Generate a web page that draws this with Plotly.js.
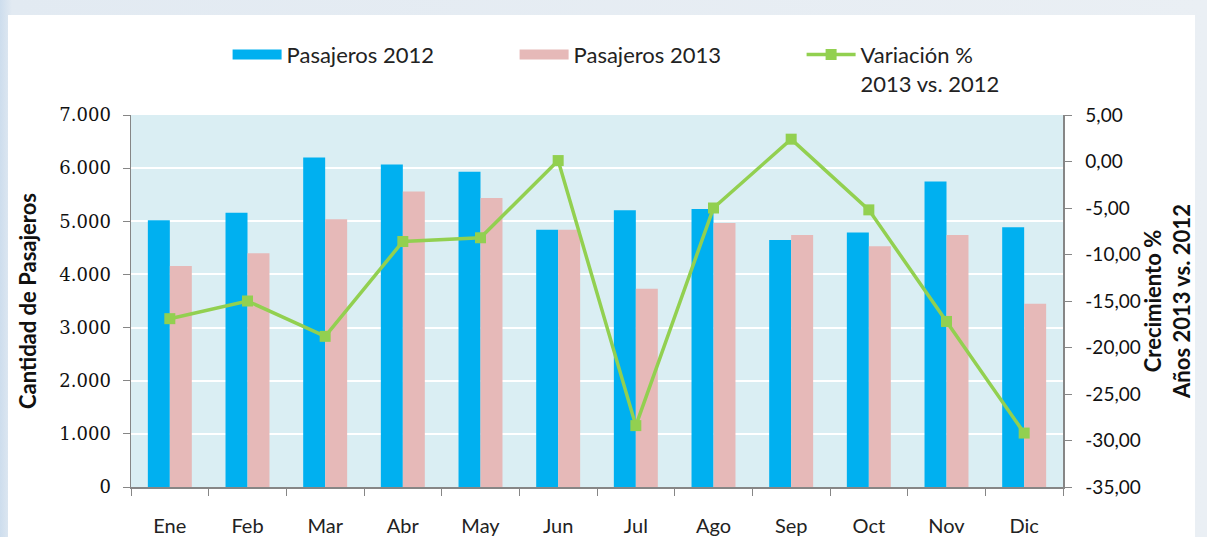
<!DOCTYPE html>
<html><head><meta charset="utf-8">
<script src="https://cdn.plot.ly/plotly-3.0.1.min.js"></script>
<style>
html,body{margin:0;padding:0;width:1207px;height:537px;overflow:hidden;}
body{background:linear-gradient(to right,#cddded 0px,#e2eaf2 12px,#eaeff4 100%);}
#chart{position:absolute;left:8px;top:15px;width:1187px;height:522px;background:#fff;}
</style></head><body><div id="chart"></div>
<script>
const months = ["Ene","Feb","Mar","Abr","May","Jun","Jul","Ago","Sep","Oct","Nov","Dic"];
const pasajeros2012 = [5020,5160,6200,6070,5930,4840,5210,5230,4650,4790,5750,4890];
const pasajeros2013 = [4160,4400,5040,5560,5440,4840,3730,4970,4740,4530,4740,3450];
const variacion = [-16.9,-15.0,-18.8,-8.6,-8.2,0.1,-28.4,-5.0,2.4,-5.2,-17.2,-29.2];
const rightTicks = [5,0,-5,-10,-15,-20,-25,-30,-35];
const leftTicks = [0,1000,2000,3000,4000,5000,6000,7000];

const fmtRight = v => v.toFixed(2).replace('.', ',');
const fmtLeft = v => v === 0 ? '0' : (v/1000).toFixed(3);

const blue = '#00B0F0', pink = '#E6B9B8', green = '#92D050';

const traces = [
  {type:'bar', name:'Pasajeros 2012', x:months, y:pasajeros2012, legendgroup:'p12', showlegend:false,
   marker:{color:blue, line:{width:0}}, hoverinfo:'y'},
  {type:'bar', name:'Pasajeros 2013', x:months, y:pasajeros2013, legendgroup:'p13', showlegend:false,
   marker:{color:pink, line:{width:0}}, hoverinfo:'y'},
  // legend swatches for the bar series (a single empty value, nothing is drawn)
  {type:'scatter', mode:'lines', name:'Pasajeros 2012', x:[months[0]], y:[null], legendgroup:'p12',
   line:{color:blue, width:15}, hoverinfo:'skip'},
  {type:'scatter', mode:'lines', name:'Pasajeros 2013', x:[months[0]], y:[null], legendgroup:'p13',
   line:{color:pink, width:15}, hoverinfo:'skip'},
  {type:'scatter', mode:'lines+markers', name:'Variación %<br>2013 vs. 2012', x:months, y:variacion,
   yaxis:'y2', line:{color:green, width:3.5},
   marker:{symbol:'square', size:11, color:green}}
];

const axisGrey = '#868686';
const layout = {
  width:1187, height:522,
  margin:{l:123, r:132, t:100, b:50},
  paper_bgcolor:'#ffffff',
  plot_bgcolor:'#DAEEF3',
  separators:',.',
  barmode:'group', bargap:0.434, bargroupgap:0,
  font:{family:'Lato, sans-serif', color:'#111'},
  showlegend:true,
  legend:{orientation:'h', xref:'container', yref:'container', x:0.185, y:0.964,
          xanchor:'left', yanchor:'top', font:{family:'Lato, sans-serif', size:22, color:'#222'},
          entrywidth:223, entrywidthmode:'pixels', itemwidth:49, valign:'top',
          traceorder:'normal', bgcolor:'rgba(0,0,0,0)'},
  xaxis:{type:'category', range:[-0.5, 11.5], tickson:'boundaries', ticks:'outside', ticklen:7, tickcolor:axisGrey,
         showline:true, linecolor:axisGrey, linewidth:1.5, showgrid:false,
         tickfont:{family:'Lato, sans-serif', size:20, color:'#222'}, ticklabelstandoff:20,
         automargin:false},
  yaxis:{range:[0,7000], tickvals:leftTicks, ticktext:leftTicks.map(fmtLeft),
         showgrid:true, gridcolor:'#ffffff', gridwidth:2, zeroline:false,
         ticks:'outside', ticklen:7, tickcolor:axisGrey, showline:true, linecolor:axisGrey, linewidth:1.5,
         tickfont:{family:'DejaVu Serif, serif', size:18, color:'#111'}, ticklabelstandoff:8,
         title:{text:'Cantidad de Pasajeros', font:{family:'Lato, sans-serif', size:22, weight:'bold', color:'#111'}, standoff:16},
         automargin:false},
  yaxis2:{overlaying:'y', side:'right', range:[-35,5], tickvals:rightTicks, ticktext:rightTicks.map(fmtRight),
          showgrid:false, zeroline:false, ticks:'outside', ticklen:7, tickcolor:axisGrey,
          showline:true, linecolor:axisGrey, linewidth:1.5,
          tickfont:{family:'Lato, sans-serif', size:19, color:'#111'}, ticklabelstandoff:10,
          title:{text:'Crecimiento %<br>Años 2013 vs. 2012', font:{family:'Lato, sans-serif', size:22, weight:'bold', color:'#111'}, standoff:19},
          automargin:false}
};

Plotly.newPlot('chart', traces, layout, {displayModeBar:false, staticPlot:true});
</script></body></html>
